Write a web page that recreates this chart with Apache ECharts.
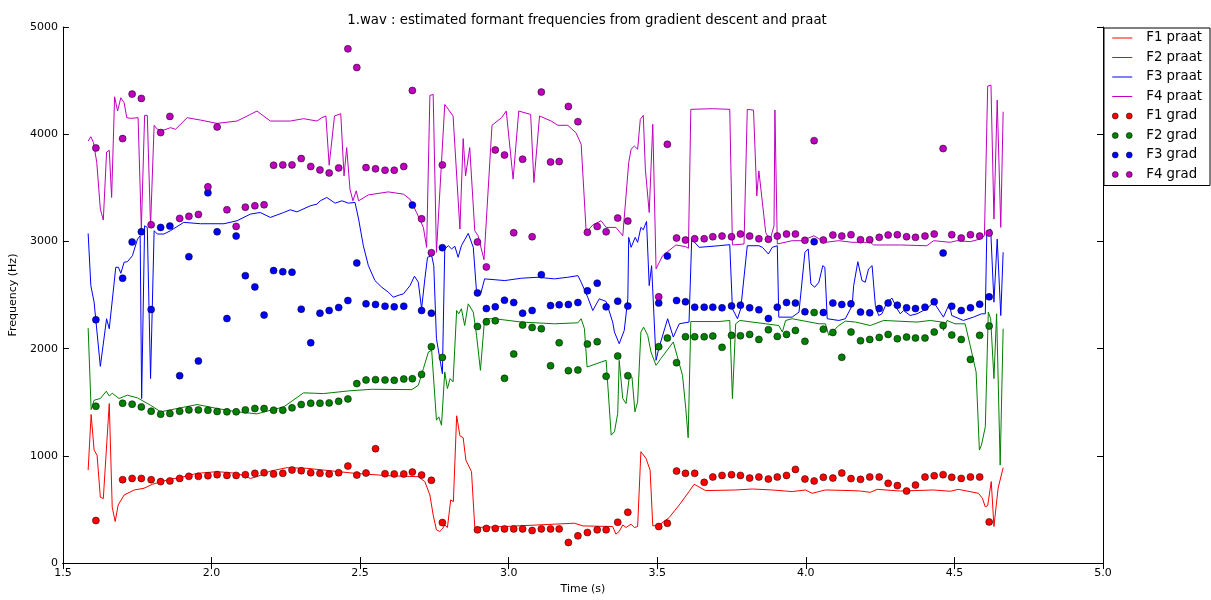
<!DOCTYPE html>
<html>
<head>
<meta charset="utf-8">
<script src="https://cdn.jsdelivr.net/npm/echarts@6/dist/echarts.min.js"></script>
<style>
  html, body { margin: 0; padding: 0; background: #fff; }
  #chart { width: 1211px; height: 600px; }
</style>
</head>
<body>
<div id="chart"></div>
<script>
// Gradient-descent estimates: one shared time axis (s) and a value list per formant (Hz)
const gradTime = [1.611,1.701,1.733,1.764,1.797,1.829,1.860,1.893,1.924,1.956,1.988,2.019,2.052,2.083,2.114,2.146,2.177,2.209,2.240,2.271,2.302,2.334,2.365,2.396,2.428,2.459,2.489,2.520,2.552,2.584,2.615,2.647,2.676,2.707,2.740,2.777,2.895,2.925,2.955,2.986,3.017,3.047,3.079,3.110,3.141,3.170,3.201,3.233,3.265,3.298,3.328,3.367,3.401,3.505,3.534,3.565,3.595,3.626,3.658,3.687,3.718,3.750,3.780,3.811,3.842,3.874,3.904,3.935,3.965,3.997,4.028,4.059,4.091,4.121,4.152,4.184,4.215,4.247,4.277,4.308,4.339,4.369,4.401,4.432,4.462,4.491,4.523,4.554,4.585,4.617];
const gradF1 = [397,778,790,790,778,760,766,790,809,809,815,825,818,818,825,837,843,831,837,868,862,843,837,831,843,905,821,840,1067,834,831,831,849,821,772,378,310,323,323,319,319,319,304,319,319,319,192,254,285,310,310,381,474,341,372,858,837,837,753,803,818,825,818,793,803,784,803,818,874,784,766,800,793,840,788,781,803,803,744,723,672,728,803,815,825,800,790,803,803,384];
const gradF2 = [1463,1491,1482,1457,1416,1389,1395,1416,1429,1429,1426,1414,1411,1411,1429,1442,1442,1426,1426,1448,1479,1491,1491,1494,1509,1531,1674,1708,1711,1708,1705,1717,1720,1760,2018,1918,2207,2250,2260,1723,1950,2220,2198,2186,1841,2055,1795,1801,2043,2065,1742,1931,1748,2018,2099,1869,2111,2111,2111,2118,2012,2124,2120,2133,2086,2176,2114,2133,2170,2068,2337,2182,2151,1919,2155,2074,2086,2105,2133,2093,2108,2099,2099,2155,2216,2127,2086,1900,2124,2211];
const gradF3 = [2269,2657,2995,3090,2365,3131,3143,1748,2858,1885,3453,3090,2281,3050,2681,2576,2313,2728,2718,2713,2368,2055,2331,2356,2384,2449,2799,2418,2412,2396,2390,2396,3339,2356,2331,2942,2520,2374,2390,2452,2430,2331,2356,2690,2402,2409,2412,2430,2539,2611,2390,2443,2397,2425,2864,2449,2437,2387,2387,2387,2381,2399,2406,2381,2362,2281,2387,2430,2425,2344,2998,2337,2425,2412,2418,2341,2334,2374,2425,2406,2381,2374,2387,2437,2892,2396,2356,2381,2415,2483];
const gradF4 = [3872,3959,4374,4334,3156,4015,4166,3215,3234,3252,3509,4068,3295,3140,3320,3332,3342,3711,3714,3714,3773,3699,3667,3639,3686,4796,4622,3689,3677,3664,3664,3699,4408,3211,2895,3714,2995,2762,3853,3806,3081,3767,3044,4393,3741,3745,4259,4117,3085,3140,3090,3218,3190,2483,3906,3032,3013,3025,3025,3044,3050,3044,3069,3050,3025,3020,3050,3069,3069,3010,3940,3013,3060,3050,3063,3016,3016,3038,3060,3063,3044,3038,3050,3069,3866,3063,3032,3063,3050,3078];

// Praat formant tracks: [time (s), frequency (Hz)]
const praatF1 = [[1.585,868],[1.595,1386],[1.605,1054],[1.615,1007],[1.626,614],[1.636,602],[1.656,1488],[1.666,521],[1.676,388],[1.686,542],[1.706,635],[1.740,682],[1.773,698],[1.801,735],[1.851,775],[1.907,806],[1.952,837],[2.019,853],[2.086,837],[2.131,790],[2.153,806],[2.198,858],[2.254,890],[2.321,884],[2.377,868],[2.483,837],[2.595,815],[2.696,806],[2.718,760],[2.735,635],[2.746,449],[2.757,310],[2.768,295],[2.777,319],[2.785,356],[2.794,332],[2.805,589],[2.814,574],[2.825,1374],[2.836,1188],[2.847,1169],[2.856,961],[2.875,853],[2.886,332],[2.987,341],[3.099,356],[3.221,372],[3.250,347],[3.350,341],[3.361,270],[3.372,295],[3.384,356],[3.395,332],[3.412,363],[3.423,332],[3.434,341],[3.445,1039],[3.462,977],[3.476,868],[3.485,347],[3.507,356],[3.540,425],[3.574,542],[3.607,667],[3.624,735],[3.663,676],[3.764,682],[3.820,691],[3.887,682],[3.954,667],[3.999,682],[4.021,651],[4.066,682],[4.156,676],[4.184,672],[4.217,660],[4.240,688],[4.318,672],[4.430,682],[4.486,670],[4.513,688],[4.581,651],[4.594,605],[4.604,524],[4.612,537],[4.624,760],[4.633,341],[4.647,698],[4.664,890]];
const praatF2 = [[1.585,2192],[1.595,1432],[1.605,1519],[1.626,1535],[1.646,1603],[1.656,1559],[1.666,1584],[1.689,1535],[1.717,1566],[1.751,1541],[1.795,1472],[1.829,1411],[1.885,1442],[1.952,1479],[2.019,1442],[2.086,1411],[2.153,1392],[2.187,1417],[2.243,1457],[2.310,1588],[2.377,1581],[2.461,1606],[2.539,1621],[2.674,1618],[2.696,1658],[2.713,1813],[2.730,1969],[2.741,1984],[2.757,1333],[2.765,1364],[2.774,1286],[2.785,1783],[2.794,1628],[2.803,1721],[2.813,1690],[2.825,2356],[2.832,2325],[2.841,2372],[2.852,2216],[2.864,2418],[2.881,2341],[2.892,2124],[2.905,1798],[2.919,2279],[2.953,2279],[3.043,2248],[3.154,2232],[3.233,2241],[3.244,2279],[3.255,2186],[3.264,1829],[3.311,1875],[3.328,1891],[3.345,1193],[3.356,1225],[3.367,1395],[3.372,1891],[3.384,1535],[3.395,1488],[3.406,1736],[3.415,1736],[3.425,1411],[3.434,1504],[3.445,2155],[3.454,2201],[3.468,2124],[3.479,1969],[3.496,1844],[3.512,1907],[3.529,1969],[3.554,2062],[3.568,1922],[3.585,1751],[3.596,1442],[3.604,1169],[3.613,2253],[3.708,2253],[3.744,2263],[3.753,1535],[3.764,2232],[3.778,2263],[3.865,2232],[3.909,2216],[3.921,2155],[3.932,2263],[3.954,2279],[4.044,2232],[4.066,2232],[4.077,2124],[4.111,2216],[4.133,2257],[4.167,2248],[4.217,2216],[4.262,2263],[4.374,2248],[4.419,2263],[4.458,2248],[4.463,2170],[4.475,2263],[4.502,2232],[4.536,2232],[4.553,2030],[4.573,1783],[4.584,1054],[4.591,1100],[4.604,1271],[4.614,2341],[4.622,2279],[4.633,1721],[4.642,2325],[4.654,914],[4.664,2186]];
const praatF3 = [[1.585,3075],[1.594,2588],[1.605,2434],[1.626,1835],[1.647,2279],[1.656,2186],[1.678,2759],[1.687,2759],[1.695,2703],[1.706,2806],[1.717,2811],[1.734,2867],[1.751,3022],[1.760,3053],[1.765,1535],[1.775,3146],[1.784,3131],[1.795,1721],[1.807,3100],[1.818,3069],[1.840,3069],[1.862,3100],[1.907,3178],[1.963,3165],[2.042,3165],[2.086,3193],[2.131,3255],[2.164,3270],[2.198,3224],[2.243,3270],[2.265,3295],[2.288,3276],[2.332,3332],[2.355,3348],[2.366,3379],[2.388,3410],[2.416,3357],[2.439,3379],[2.461,3357],[2.483,3364],[2.495,3209],[2.511,2960],[2.528,2774],[2.550,2635],[2.573,2573],[2.595,2527],[2.612,2480],[2.634,2502],[2.646,2511],[2.668,2588],[2.683,2676],[2.696,2620],[2.707,2372],[2.718,2651],[2.727,2852],[2.741,2867],[2.748,2774],[2.757,2093],[2.777,1767],[2.785,2930],[2.797,2960],[2.808,2930],[2.819,2955],[2.830,2852],[2.841,2960],[2.864,3075],[2.881,2945],[2.892,2527],[2.906,2511],[2.919,2651],[2.987,2635],[3.043,2657],[3.099,2666],[3.154,2651],[3.199,2666],[3.233,2681],[3.244,2620],[3.266,2480],[3.283,2356],[3.305,2465],[3.328,2440],[3.350,2248],[3.356,2155],[3.372,2046],[3.389,2170],[3.401,2465],[3.404,3038],[3.412,2945],[3.426,3038],[3.434,2992],[3.445,3131],[3.453,3109],[3.464,3187],[3.473,2588],[3.481,2774],[3.496,1891],[3.505,2000],[3.535,2279],[3.554,2108],[3.574,2232],[3.607,2248],[3.616,3022],[3.641,2945],[3.708,2960],[3.744,2970],[3.753,2372],[3.770,2279],[3.781,2372],[3.803,2960],[3.842,2960],[3.854,2945],[3.874,2883],[3.887,2945],[3.904,2960],[3.909,2294],[3.954,2294],[3.977,2341],[3.997,2899],[4.008,2930],[4.017,2604],[4.030,2573],[4.044,2620],[4.057,2774],[4.064,2759],[4.072,2279],[4.111,2263],[4.133,2279],[4.156,2402],[4.161,2588],[4.175,2811],[4.189,2635],[4.200,2620],[4.211,2743],[4.223,2774],[4.234,2402],[4.245,2309],[4.256,2325],[4.273,2434],[4.290,2471],[4.307,2372],[4.318,2325],[4.329,2356],[4.351,2309],[4.374,2325],[4.407,2372],[4.430,2434],[4.452,2341],[4.463,2294],[4.483,2418],[4.491,2309],[4.530,2263],[4.564,2294],[4.591,2325],[4.604,2325],[4.609,3085],[4.622,3116],[4.633,2434],[4.644,3022],[4.656,2309],[4.664,2899]];
const praatF4 = [[1.585,3937],[1.594,3977],[1.603,3922],[1.614,3736],[1.626,3302],[1.636,3199],[1.647,3834],[1.656,3850],[1.664,3410],[1.674,4349],[1.684,4216],[1.695,4340],[1.706,4294],[1.715,4154],[1.728,4148],[1.753,4154],[1.764,3116],[1.775,4176],[1.784,4176],[1.795,3146],[1.807,4083],[1.818,4046],[1.840,4039],[1.862,4061],[1.879,4046],[1.918,4154],[1.963,4132],[2.019,4101],[2.086,4123],[2.131,4185],[2.153,4216],[2.198,4123],[2.265,4123],[2.310,4145],[2.355,4123],[2.371,4154],[2.385,4170],[2.396,3711],[2.414,4170],[2.435,4191],[2.446,3611],[2.455,3875],[2.466,3488],[2.476,3379],[2.487,3472],[2.495,3379],[2.528,3434],[2.595,3462],[2.646,3441],[2.668,3394],[2.690,3270],[2.713,3131],[2.724,2945],[2.735,4362],[2.746,4371],[2.757,2899],[2.785,4278],[2.813,4170],[2.836,3116],[2.847,3959],[2.855,3611],[2.869,3875],[2.886,3100],[2.897,3053],[2.917,2830],[2.944,4083],[2.976,4154],[2.992,4216],[3.015,3581],[3.034,4216],[3.074,4185],[3.085,3550],[3.104,4170],[3.143,4123],[3.166,4083],[3.199,4083],[3.227,4012],[3.244,3906],[3.261,3085],[3.283,3153],[3.311,3193],[3.328,3131],[3.361,3131],[3.384,3053],[3.404,3736],[3.412,3860],[3.423,3890],[3.434,3860],[3.443,4139],[3.453,4176],[3.460,3674],[3.473,3270],[3.485,4092],[3.496,2744],[3.518,2867],[3.563,2967],[3.596,2951],[3.605,2936],[3.613,4232],[3.686,4238],[3.744,4232],[3.753,2967],[3.792,2976],[3.803,4232],[3.824,4225],[3.835,3425],[3.842,3658],[3.865,3085],[3.879,3007],[3.893,3146],[3.896,4225],[3.904,2976],[3.954,3007],[3.988,3007],[4.027,3053],[4.066,2992],[4.111,3007],[4.156,2992],[4.217,2992],[4.228,2967],[4.318,2967],[4.407,2960],[4.430,3007],[4.486,2992],[4.508,3007],[4.553,2998],[4.586,3022],[4.601,3053],[4.612,4449],[4.623,4458],[4.633,3209],[4.644,4318],[4.656,3131],[4.664,4210]];

const formantColors = ['#ff0000', '#008000', '#0000ff', '#bf00bf'];
const praatNames = ['F1 praat', 'F2 praat', 'F3 praat', 'F4 praat'];
const gradNames = ['F1 grad', 'F2 grad', 'F3 grad', 'F4 grad'];
const xTicks = [1.5, 5.0, 0.5];   // min, max, step (s)
const yTicks = [0, 5000, 1000];   // min, max, step (Hz)

const FONT = 'DejaVu Sans';
const praatTracks = [praatF1, praatF2, praatF3, praatF4];
const gradTracks = [gradF1, gradF2, gradF3, gradF4];

const lineSeries = praatTracks.map((track, i) => ({
  name: praatNames[i],
  type: 'line',
  data: track,
  symbol: 'none',
  lineStyle: { color: formantColors[i], width: 1 },
  itemStyle: { color: formantColors[i] },
  z: 2
}));

const dotSeries = gradTracks.map((vals, i) => ({
  name: gradNames[i],
  type: 'scatter',
  data: gradTime.map((t, k) => [t, vals[k]]),
  symbol: 'circle',
  symbolSize: 7,
  itemStyle: { color: formantColors[i], borderColor: '#000', borderWidth: 0.5, opacity: 1 },
  z: 3
}));

// legend glyphs: a short stroke for tracks, a pair of dots for estimates
const lineGlyph = 'path://M0,0H20V1H0Z';
const twoDots = 'path://M0,3a3,3 0 1,0 6,0a3,3 0 1,0 -6,0Z M14,3a3,3 0 1,0 6,0a3,3 0 1,0 -6,0Z';

const axisCommon = {
  type: 'value',
  axisLine: { show: true, lineStyle: { color: '#000', width: 1 } },
  axisTick: { show: true, inside: true, length: 6, lineStyle: { color: '#000', width: 1 } },
  splitLine: { show: false }
};

const chart = echarts.init(document.getElementById('chart'), null, { renderer: 'canvas' });
chart.setOption({
  animation: false,
  backgroundColor: '#fff',
  title: {
    text: '1.wav : estimated formant frequencies from gradient descent and praat',
    left: 582,
    textAlign: 'center',
    top: 9,
    textStyle: { fontFamily: FONT, fontSize: 13.3, fontWeight: 'normal', color: '#000' }
  },
  grid: { left: 60, right: 108, top: 27, bottom: 35, containLabel: false },
  legend: {
    orient: 'vertical',
    left: 1104,
    top: 28,
    padding: [2, 8, 3, 8],
    itemGap: 3.5,
    itemWidth: 20,
    itemHeight: 7,
    borderColor: '#000',
    borderWidth: 1,
    backgroundColor: '#fff',
    textStyle: { fontFamily: FONT, fontSize: 13.3, color: '#000', lineHeight: 16, padding: [0, 0, 0, 9] },
    data: praatNames.map((n, i) => ({ name: n, icon: lineGlyph,
                                       itemStyle: { color: formantColors[i], borderWidth: 0 } }))
      .concat(gradNames.map((n, i) => ({ name: n, icon: twoDots,
                                       itemStyle: { color: formantColors[i], borderColor: '#000', borderWidth: 0.5 } })))
  },
  xAxis: [
    Object.assign({}, axisCommon, {
      position: 'bottom',
      min: xTicks[0], max: xTicks[1], interval: xTicks[2],
      name: 'Time (s)',
      nameLocation: 'middle',
      nameGap: 20,
      nameTextStyle: { fontFamily: FONT, fontSize: 11, color: '#000' },
      axisLabel: { margin: 5, fontFamily: FONT, fontSize: 11, color: '#000',
                   formatter: v => v.toFixed(1) }
    }),
    Object.assign({}, axisCommon, {
      position: 'top',
      min: xTicks[0], max: xTicks[1], interval: xTicks[2],
      axisLabel: { show: false }
    })
  ],
  yAxis: [
    Object.assign({}, axisCommon, {
      position: 'left',
      min: yTicks[0], max: yTicks[1], interval: yTicks[2],
      name: 'Frequency (Hz)',
      nameLocation: 'middle',
      nameGap: 34,
      nameTextStyle: { fontFamily: FONT, fontSize: 11, color: '#000' },
      axisLabel: { margin: 5, fontFamily: FONT, fontSize: 11, color: '#000',
                   formatter: v => String(v) }
    }),
    Object.assign({}, axisCommon, {
      position: 'right',
      min: yTicks[0], max: yTicks[1], interval: yTicks[2],
      axisLabel: { show: false }
    })
  ],
  series: lineSeries.concat(dotSeries)
});
</script>
</body>
</html>
